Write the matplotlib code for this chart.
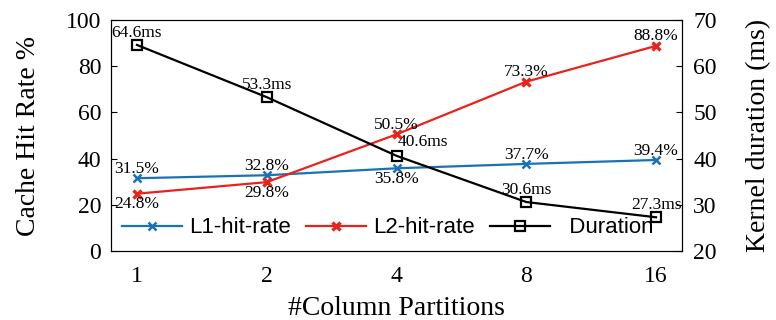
import matplotlib
matplotlib.use("Agg")
import matplotlib.pyplot as plt

categories = ["1", "2", "4", "8", "16"]
l1_rate = [31.5, 32.8, 35.8, 37.7, 39.4]
l2_rate = [24.8, 29.8, 50.5, 73.3, 88.8]
duration = [64.6, 53.3, 40.6, 30.6, 27.3]

serif = ["Liberation Serif", "DejaVu Serif"]
plt.rcParams["font.family"] = serif

fig = plt.figure(figsize=(7.76, 3.2), dpi=100)
ax = fig.add_axes([111/776, 1 - 251/320, (682-111)/776, (251-20)/320])
ax2 = ax.twinx()

x = list(range(len(categories)))
blue = "#1a72b5"
red = "#e8231c"

l1, = ax.plot(x, l1_rate, color=blue, marker="x", ms=5.5, mew=1.8, lw=1.6, label="L1-hit-rate")
l2, = ax.plot(x, l2_rate, color=red, marker="x", ms=5.5, mew=2.4, lw=1.6, label="L2-hit-rate")
d, = ax2.plot(x, duration, color="black", marker="s", ms=6.5, mfc="none", mew=1.6, lw=1.6, label="  Duration")

ax.set_xlim(-0.2, 4.2)
ax.set_ylim(0, 100)
ax2.set_ylim(20, 70)
ax.set_xticks(x)
ax.set_xticklabels(categories)
ax.set_yticks([0, 20, 40, 60, 80, 100])
ax2.set_yticks([20, 30, 40, 50, 60, 70])
ax.tick_params(axis="y", direction="in", labelsize=17, length=4, pad=7)
ax.tick_params(axis="x", direction="in", labelsize=17, length=0, pad=11)
ax2.tick_params(axis="y", direction="in", labelsize=17, length=4, pad=8)
ax.set_xlabel("#Column Partitions", fontsize=20, labelpad=6)
ax.set_ylabel("Cache Hit Rate %", fontsize=20, labelpad=18)
ax2.set_ylabel("Kernel duration (ms)", fontsize=20, labelpad=21)

fs = 12.5
# (dx, dy, va) offsets in points for each label
l1_off = [(0, 1, "bottom"), (0, 1, "bottom"), (0, -2, "top"), (0, 1, "bottom"), (0, 1, "bottom")]
l2_off = [(0, -2, "top"), (0, -2, "top"), (0, 1, "bottom"), (0, 1, "bottom"), (0, 1, "bottom")]
d_off = [(0, 3, "bottom"), (0, 3, "bottom"), (19, 4, "bottom"), (0, 3, "bottom"), (0, 3, "bottom")]
for i in x:
    dx, dy, va = l1_off[i]
    ax.annotate(f"{l1_rate[i]}%", (i, l1_rate[i]), xytext=(dx, dy), textcoords="offset points",
                ha="center", va=va, fontsize=fs)
    dx, dy, va = l2_off[i]
    ax.annotate(f"{l2_rate[i]}%", (i, l2_rate[i]), xytext=(dx, dy), textcoords="offset points",
                ha="center", va=va, fontsize=fs)
    dx, dy, va = d_off[i]
    ax2.annotate(f"{duration[i]}ms", (i, duration[i]), xytext=(dx, dy), textcoords="offset points",
                 ha="center", va=va, fontsize=fs)

leg = ax.legend(handles=[l1, l2, d], loc="center", bbox_to_anchor=(0.485, 0.1), ncol=3,
                frameon=False, prop={"family": ["Liberation Sans", "DejaVu Sans"], "size": 16},
                handlelength=2.7, columnspacing=0.7, handletextpad=0.3)

fig.savefig("out.png", dpi=100)
